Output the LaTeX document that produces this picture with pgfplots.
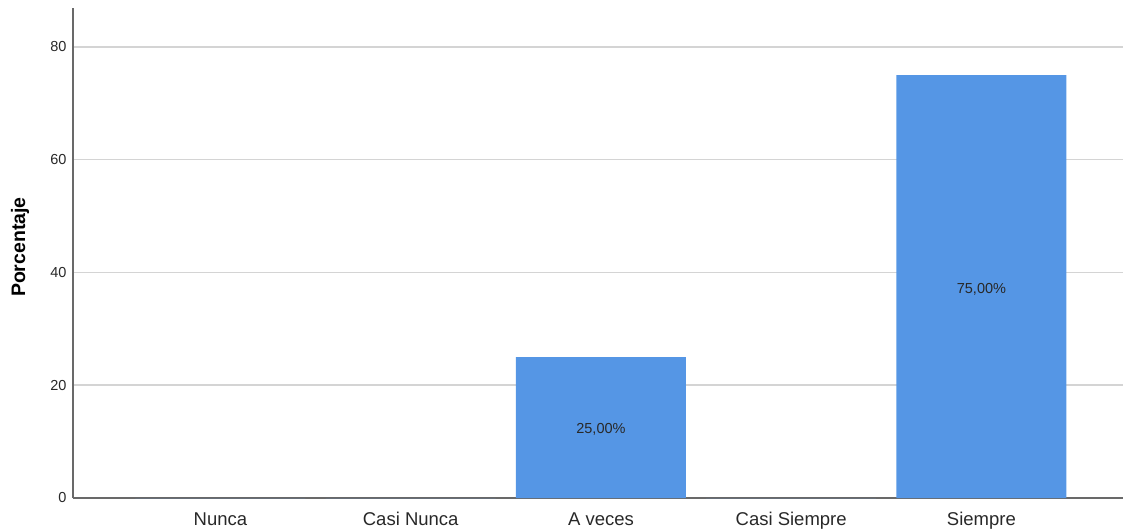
\documentclass[border=0pt]{standalone}
\usepackage{pgfplots}
\pgfplotsset{compat=1.18}
\usepackage{fontspec}
\setmainfont{Liberation Sans}
\definecolor{barblue}{RGB}{85,150,229}
\definecolor{gridgray}{RGB}{212,212,212}
\definecolor{axgray}{RGB}{105,105,105}
\definecolor{txtgray}{RGB}{40,40,40}
\begin{document}
\begin{tikzpicture}
\begin{axis}[
  at={(0pt,0pt)}, anchor=south west,
  scale only axis, width=1050pt, height=490pt,
  xmin=-0.775, xmax=4.744, ymin=0, ymax=86.9,
  axis lines=left, axis line style={-, axgray, line width=1.4pt},
  ytick={0,20,40,60,80},
  ymajorgrids, grid style={gridgray, line width=1.5pt},
  xtick={0,1,2,3,4},
  xticklabels={Nunca,Casi Nunca,A veces,Casi Siempre,Siempre},
  major tick length=0pt,
  /pgf/number format/assume math mode=true,
  yticklabel style={font=\fontsize{14.5}{14.5}\selectfont, text=txtgray, xshift=-3pt},
  xticklabel style={font=\fontsize{18.5}{18.5}\selectfont, text=txtgray, yshift=-11pt},
  ylabel={Porcentaje},
  ylabel style={font=\bfseries\fontsize{19.5}{19.5}\selectfont, at={(axis description cs:0,0.512)}, yshift=53pt, anchor=center},
  clip=false,
]
\addplot[ybar, bar width=0.8935, fill=barblue, draw=none] coordinates {(0,0) (1,0) (2,25) (3,0) (4,75)};
\addplot[draw=none, mark=none, nodes near coords, point meta=explicit symbolic,
  nodes near coords style={font=\fontsize{14.5}{14.5}\selectfont, anchor=center, text=txtgray}]
  coordinates {(2,12.2) [25,00\%] (4,37) [75,00\%]};
\end{axis}
\pgfresetboundingbox
\path[use as bounding box] (-73pt,-34pt) rectangle (1050pt,498pt);
\end{tikzpicture}
\end{document}
